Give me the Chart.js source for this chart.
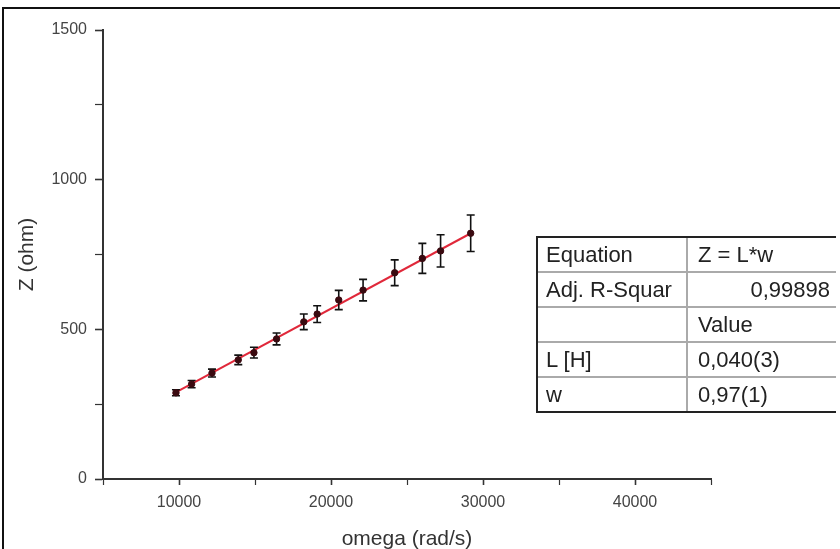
<!DOCTYPE html>
<html>
<head>
<meta charset="utf-8">
<script src="https://cdn.jsdelivr.net/npm/chart.js@4.4.0/dist/chart.umd.min.js"></script>
<style>
    html, body { margin: 0; padding: 0; background: #fff; }
    #wrap { position: relative; width: 840px; height: 549px; overflow: hidden; }
    #frame { position: absolute; left: 2px; top: 7px; width: 850px; height: 560px;
             border-left: 2px solid #111; border-top: 2px solid #111; }
    #chart { position: absolute; left: 0; top: 0; }
    #fitTable { position: absolute; left: 536px; top: 236px; width: 300px; table-layout: fixed;
                border-collapse: collapse; font-family: 'Liberation Sans', Arial, sans-serif;
                font-size: 22px; line-height: 1; color: #222; }
    #fitTable td { height: 33px; padding: 0 8px; border-top: 2px solid #aaa; white-space: nowrap; overflow: hidden; }
    #fitTable tr:first-child td { border-top: 2px solid #222; }
    #fitTable tr:last-child td { border-bottom: 2px solid #222; }
    #fitTable td:first-child { border-left: 2px solid #222; width: 132px; }
    #fitTable td:last-child { border-left: 2px solid #aaa; padding-left: 10px; }
    #fitTable td.num { text-align: right; padding-right: 6px; }
</style>
</head>
<body>
<div id="wrap">
    <canvas id="chart" width="840" height="560"></canvas>
    <div id="frame"></div>
    <table id="fitTable"></table>
</div>
<script>
// measured points
const omega = [9800, 10830, 12170, 13900, 14930, 16420, 18210, 19090, 20510, 22110, 24190, 26010, 27210, 29190];
const impedance = [288, 317, 354, 398, 422, 468, 525, 551, 598, 631, 689, 737, 762, 821];
const impedanceErr = [10, 12, 13, 16, 18, 20, 26, 28, 32, 36, 43, 50, 54, 61];

// fitted line Z = L*w
const fitOmega = [9600, 29200];
const fitZ = [284, 821];

const tableRows = [
    ['Equation', 'Z = L*w'],
    ['Adj. R-Squar', '0,99898'],
    ['', 'Value'],
    ['L [H]', '0,040(3)'],
    ['w', '0,97(1)']
];

const table = document.getElementById('fitTable');
tableRows.forEach((row, i) => {
    const tr = document.createElement('tr');
    row.forEach((cell, j) => {
        const td = document.createElement('td');
        td.textContent = cell;
        if (i === 1 && j === 1) td.className = 'num';
        tr.appendChild(td);
    });
    table.appendChild(tr);
});

const errorBars = {
    id: 'errorBars',
    afterDatasetDraw(chart, args) {
        if (args.index !== 0) return;
        const ctx = chart.ctx;
        const x = chart.scales.x, y = chart.scales.y;
        ctx.save();
        ctx.strokeStyle = '#111';
        ctx.lineWidth = 1.6;
        omega.forEach((w, i) => {
            const px = x.getPixelForValue(w);
            const top = y.getPixelForValue(impedance[i] + impedanceErr[i]);
            const bot = y.getPixelForValue(impedance[i] - impedanceErr[i]);
            ctx.beginPath();
            ctx.moveTo(px, top); ctx.lineTo(px, bot);
            ctx.moveTo(px - 4, top); ctx.lineTo(px + 4, top);
            ctx.moveTo(px - 4, bot); ctx.lineTo(px + 4, bot);
            ctx.stroke();
        });
        ctx.restore();
    }
};

const tickFont = { family: "'Liberation Sans', Arial, sans-serif", size: 16 };
const titleFont = { family: "'Liberation Sans', Arial, sans-serif", size: 21 };

new Chart(document.getElementById('chart'), {
    type: 'scatter',
    data: {
        datasets: [
            {
                label: 'fit',
                type: 'line',
                data: fitOmega.map((w, i) => ({ x: w, y: fitZ[i] })),
                borderColor: '#e0283a',
                borderWidth: 2,
                pointRadius: 0,
                order: 2
            },
            {
                label: 'Z',
                data: omega.map((w, i) => ({ x: w, y: impedance[i] })),
                backgroundColor: '#3a0a10',
                borderColor: '#3a0a10',
                pointRadius: 3.2,
                order: 1
            }
        ]
    },
    options: {
        responsive: false,
        animation: false,
        layout: { padding: { left: 0, top: 30, right: 129, bottom: 0 } },
        plugins: { legend: { display: false }, tooltip: { enabled: false } },
        scales: {
            x: {
                type: 'linear',
                min: 5000, max: 45000,
                afterFit(scale) { scale.height = 81; },
                border: { color: '#333', width: 2 },
                grid: { drawOnChartArea: false, tickLength: 6, tickColor: '#333',
                        tickWidth: ctx => (ctx.tick && ctx.tick.value % 10000 === 0 ? 1.6 : 1.2) },
                ticks: {
                    stepSize: 5000, color: '#444', font: tickFont, padding: 8, maxRotation: 0,
                    autoSkip: false,
                    callback: v => (v % 10000 === 0 && v > 5000 && v < 45000 ? String(v) : '')
                },
                title: { display: true, text: 'omega (rad/s)', color: '#333', font: titleFont, padding: { top: 0, bottom: 8 } }
            },
            y: {
                min: 0, max: 1500,
                afterFit(scale) { scale.width = 103; },
                border: { color: '#333', width: 2 },
                grid: { drawOnChartArea: false, tickLength: 8, tickColor: '#333',
                        tickWidth: ctx => (ctx.tick && ctx.tick.value % 500 === 0 ? 1.6 : 1.2) },
                ticks: {
                    stepSize: 250, color: '#444', font: tickFont, padding: 8, autoSkip: false,
                    callback: v => (v % 500 === 0 ? String(v) : '')
                },
                title: { display: true, text: 'Z (ohm)', color: '#333', font: titleFont, padding: { top: 15, bottom: 0 } }
            }
        }
    },
    plugins: [errorBars]
});
</script>
</body>
</html>
